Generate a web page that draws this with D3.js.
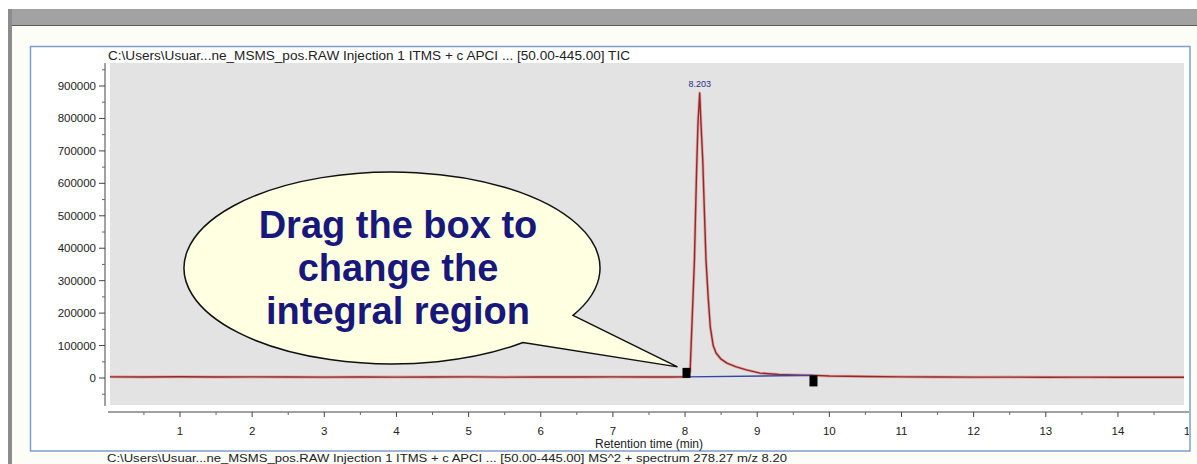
<!DOCTYPE html>
<html><head><meta charset="utf-8">
<script src="https://cdn.jsdelivr.net/npm/d3@7"></script>
<style>body{margin:0;background:#fff;overflow:hidden} svg{display:block}</style>
</head><body>
<svg id="c" width="1197" height="464"></svg>
<script>
// ---------------- data ----------------
const chartTitle = "C:\\Users\\Usuar...ne_MSMS_pos.RAW Injection 1 ITMS + c APCI ... [50.00-445.00] TIC";
const nextTitle = "C:\\Users\\Usuar...ne_MSMS_pos.RAW Injection 1 ITMS + c APCI ... [50.00-445.00] MS^2 + spectrum 278.27 m/z 8.20";
const xAxisLabel = "Retention time (min)";
const retentionTimes = [0.03,0.5,1.0,1.5,2.0,2.5,3.0,3.5,4.0,4.5,5.0,5.5,6.0,6.5,7.0,7.5,7.8,8.0,8.04,8.07,8.10,8.13,8.16,8.18,8.203,8.22,8.245,8.27,8.29,8.32,8.35,8.39,8.43,8.5,8.58,8.7,8.85,9.04,9.3,9.6,9.8,10.0,10.5,11.0,11.5,12.0,12.5,13.0,13.5,14.0,14.5,14.93];
const ticIntensity = [3500,3000,3800,2900,3400,3100,2600,3300,2800,3000,3500,2700,3200,2900,3400,3000,3300,3600,4000,20000,190000,364000,640000,790000,878500,790000,672000,500000,364000,250000,157000,100000,77000,58000,46000,35000,25000,15000,11000,9000,8000,6000,4500,3500,3000,2600,2800,2400,2600,2300,2500,2400];
const yTickValues = [0,100000,200000,300000,400000,500000,600000,700000,800000,900000];
const yMinorTicks = [-50000,50000,150000,250000,350000,450000,550000,650000,750000,850000,950000];
const xTickValues = [1,2,3,4,5,6,7,8,9,10,11,12,13,14,15];
const xMinorTicks = [0.5,1.5,2.5,3.5,4.5,5.5,6.5,7.5,8.5,9.5,10.5,11.5,12.5,13.5,14.5];
const peakTimes = [8.203];
const peakIntensities = [878500];
const peakLabels = ["8.203"];
const integrationTimes = [8.02, 9.78];
const integrationIntensities = [3500, 8000];
const calloutLines = ["Drag the box to", "change the", "integral region"];

// ---------------- drawing ----------------
const svg = d3.select("#c");
const font = "'Liberation Sans', Arial, sans-serif";

// window chrome
svg.append("rect").attr("x",0).attr("y",0).attr("width",1197).attr("height",464).attr("fill","#ffffff");
svg.append("rect").attr("x",8).attr("y",9).attr("width",1189).attr("height",17).attr("fill","#a2a2a2");
svg.append("line").attr("x1",8).attr("x2",1197).attr("y1",25.5).attr("y2",25.5).attr("stroke","#5a5a5a").attr("stroke-width",1.2);
svg.append("rect").attr("x",8).attr("y",9).attr("width",4).attr("height",455).attr("fill","#8c8c8c");
svg.append("rect").attr("x",12).attr("y",26).attr("width",1185).attr("height",438).attr("fill","#fdfdf8");
svg.append("rect").attr("x",30.5).attr("y",46.5).attr("width",1159.5).attr("height",404.5)
  .attr("fill","#ffffff").attr("stroke","#7f9dcc").attr("stroke-width",1.5);

const plotL = 110, plotR = 1184, plotT = 63, plotB = 405, axisY = 412;
const x = d3.scaleLinear().domain([0, 15]).range([107.85, 1190.1]);
const y = d3.scaleLinear().domain([-83200, 970900]).range([plotB, plotT]);

svg.append("rect").attr("x",plotL).attr("y",plotT).attr("width",plotR-plotL).attr("height",plotB-plotT).attr("fill","#e3e3e3");

// title
svg.append("text").attr("x",108).attr("y",60).attr("font-family",font).attr("font-size",12)
  .attr("fill","#222").attr("textLength",522).attr("lengthAdjust","spacingAndGlyphs").text(chartTitle);

// y axis
const yAxisG = svg.append("g").attr("transform","translate(105,0)");
yAxisG.append("line").attr("x1",0).attr("x2",0).attr("y1",63).attr("y2",406).attr("stroke","#444").attr("stroke-width",1);
yAxisG.selectAll("line.maj").data(yTickValues).join("line").attr("class","maj")
  .attr("x1",-6).attr("x2",0).attr("y1",d=>y(d)).attr("y2",d=>y(d)).attr("stroke","#444");
yAxisG.selectAll("line.min").data(yMinorTicks).join("line").attr("class","min")
  .attr("x1",-3).attr("x2",0).attr("y1",d=>y(d)).attr("y2",d=>y(d)).attr("stroke","#666");
yAxisG.selectAll("text").data(yTickValues).join("text")
  .attr("x",-9).attr("y",d=>y(d)).attr("dy","0.35em").attr("text-anchor","end")
  .attr("font-family",font).attr("font-size",11.5).attr("fill","#222").text(d=>String(d));

// x axis (clipped at the window frame, like the reference)
svg.append("clipPath").attr("id","frameclip").append("rect").attr("x",30).attr("y",40).attr("width",1159).attr("height",420);
const xAxisG = svg.append("g").attr("clip-path","url(#frameclip)");
xAxisG.append("line").attr("x1",108).attr("x2",1190).attr("y1",axisY).attr("y2",axisY).attr("stroke","#444");
xAxisG.selectAll("line.maj").data(xTickValues).join("line").attr("class","maj")
  .attr("x1",d=>x(d)).attr("x2",d=>x(d)).attr("y1",axisY).attr("y2",axisY+5).attr("stroke","#444");
xAxisG.selectAll("line.min").data(xMinorTicks).join("line").attr("class","min")
  .attr("x1",d=>x(d)).attr("x2",d=>x(d)).attr("y1",axisY).attr("y2",axisY+3).attr("stroke","#666");
xAxisG.selectAll("text").data(xTickValues).join("text")
  .attr("x",d=>x(d)).attr("y",axisY+23).attr("text-anchor","middle")
  .attr("font-family",font).attr("font-size",11.5).attr("fill","#222").text(d=>String(d));
svg.append("text").attr("x",649).attr("y",448).attr("text-anchor","middle")
  .attr("font-family",font).attr("font-size",12).attr("fill","#222").text(xAxisLabel);

// next chart title (at the bottom edge)
svg.append("text").attr("x",107).attr("y",462).attr("font-family",font).attr("font-size",11)
  .attr("fill","#222").attr("textLength",680).attr("lengthAdjust","spacingAndGlyphs").text(nextTitle);

// trace
svg.append("clipPath").attr("id","plotclip").append("rect").attr("x",plotL).attr("y",plotT).attr("width",plotR-plotL).attr("height",plotB-plotT);
const pts = retentionTimes.map((t,i)=>[t, ticIntensity[i]]);
const line = d3.line().x(d=>x(d[0])).y(d=>y(d[1]));
const g = svg.append("g").attr("clip-path","url(#plotclip)");
g.append("path").datum(pts).attr("d",line).attr("fill","none").attr("stroke","#e6a8a8").attr("stroke-width",3).attr("stroke-linejoin","round");
g.append("path").datum(pts).attr("d",line).attr("fill","none").attr("stroke","#8e2b2b").attr("stroke-width",1.4).attr("stroke-linejoin","round");

// integration baseline
const ib = integrationTimes.map((t,i)=>[t, integrationIntensities[i]]);
g.append("path").datum(ib).attr("d",line).attr("fill","none").attr("stroke","#3344aa").attr("stroke-width",1.3);

// peak label
svg.selectAll("text.peak").data(peakTimes).join("text").attr("class","peak")
  .attr("x",d=>x(d)).attr("y",(d,i)=>y(peakIntensities[i])-6).attr("text-anchor","middle")
  .attr("font-family",font).attr("font-size",9).attr("fill","#2a2a88").text((d,i)=>peakLabels[i]);

// callout bubble (annotation)
const cx = 392, cy = 268, rx = 208, ry = 96;
const tipX = x(integrationTimes[0]) - 9, tipY = y(integrationIntensities[0]) - 10;
const p1x = 573, p1y = cy + ry*Math.sqrt(1 - Math.pow((p1x-cx)/rx,2));
const p2x = 523, p2y = cy + ry*Math.sqrt(1 - Math.pow((p2x-cx)/rx,2));
svg.append("path")
  .attr("d", `M${p1x},${p1y} L${tipX},${tipY} L${p2x},${p2y} A${rx},${ry} 0 1 1 ${p1x},${p1y} Z`)
  .attr("fill","#ffffe1").attr("stroke","#111").attr("stroke-width",1.5).attr("stroke-linejoin","miter");
svg.selectAll("text.callout").data(calloutLines).join("text").attr("class","callout")
  .attr("x",398).attr("y",(d,i)=>238 + i*43).attr("text-anchor","middle")
  .attr("font-family",font).attr("font-weight","bold").attr("font-size",38).attr("fill","#17177c").text(d=>d);

// drag handles
svg.selectAll("rect.handle").data(integrationTimes).join("rect").attr("class","handle")
  .attr("x",d=>x(d)-4).attr("y",(d,i)=> i===0 ? y(integrationIntensities[i])-9 : y(integrationIntensities[i]))
  .attr("width",8).attr("height",(d,i)=> i===0 ? 10 : 11).attr("fill","#000");
</script>
</body></html>
